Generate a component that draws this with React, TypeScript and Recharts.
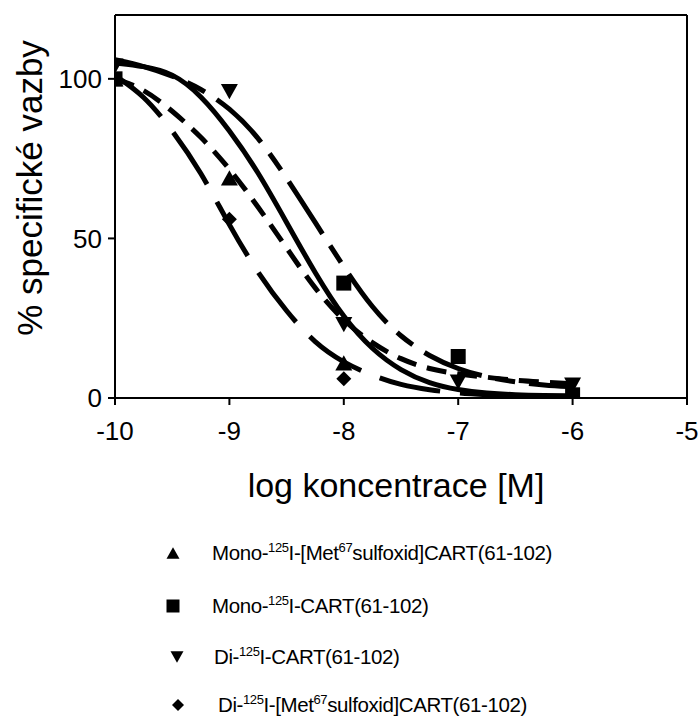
import { ComposedChart, Line, Scatter, XAxis, YAxis, ReferenceLine, Label } from "recharts";

// fitted curves at quarter-decade steps
const logGrid = [-10, -9.75, -9.5, -9.25, -9, -8.75, -8.5, -8.25, -8, -7.75, -7.5, -7.25, -7, -6.75, -6.5, -6.25, -6];
const solidCurve = [105, 104, 102, 95, 84, 71, 55, 39, 25, 15, 8.5, 4.5, 2.5, 1.5, 1, 0.8, 0.7];
const shortDashCurve = [100, 97, 90, 82, 72, 60, 47, 34, 24, 17, 12, 9, 7.5, 6.5, 5.5, 5, 4.5];
const rightDashCurve = [106, 104, 101, 97, 91, 82, 69, 55, 41, 28, 19, 13, 9, 6.5, 5, 4, 3.5];
const leftDashCurve = [101, 95, 84, 71, 54, 39, 27, 17, 11, 7, 4, 2.5, 1.5, 1, 0.5, 0.3, 0.2];

// measured points
const triX = [-10, -9, -8];
const triY = [100, 69, 11];
const squareX = [-10, -8, -7, -6];
const squareY = [100, 36, 13, 1];
const downX = [-10, -9, -8, -7, -6];
const downY = [104, 96, 23, 5, 4];
const diamondX = [-10, -9, -8];
const diamondY = [100, 56, 6];

const xTicks = [-10, -9, -8, -7, -6, -5];
const yTicks = [0, 50, 100];

const pts = (xs: number[], ys: number[]) => xs.map((x, i) => ({ x, y: ys[i] }));
const FONT = "'Liberation Sans', Arial, sans-serif";

const triShape = (s: number, down = false) => (p: any) => {
  const { cx, cy } = p;
  const h = s * 0.9;
  const d = down
    ? `M${cx - s / 2},${cy - h / 2}L${cx + s / 2},${cy - h / 2}L${cx},${cy + h / 2}Z`
    : `M${cx - s / 2},${cy + h / 2}L${cx + s / 2},${cy + h / 2}L${cx},${cy - h / 2}Z`;
  return <path d={d} fill="#000" />;
};
const squareShape = (s: number) => (p: any) => <rect x={p.cx - s / 2} y={p.cy - s / 2} width={s} height={s} fill="#000" />;
const diamondShape = (s: number) => (p: any) => {
  const { cx, cy } = p;
  const r = s / 2;
  return <path d={`M${cx},${cy - r}L${cx + r},${cy}L${cx},${cy + r}L${cx - r},${cy}Z`} fill="#000" />;
};

function LegendRow({ top, left, marker, children }: { top: number; left: number; marker: React.ReactNode; children: React.ReactNode }) {
  return (
    <div style={{ position: "absolute", top: top - 13, left: 160, height: 26, display: "flex", alignItems: "center" }}>
      <svg width={30} height={26} style={{ display: "block" }}>{marker}</svg>
      <span style={{ position: "absolute", left: left - 160, whiteSpace: "nowrap", fontSize: 20.5, fontFamily: FONT, color: "#000", letterSpacing: -0.4 }}>
        {children}
      </span>
    </div>
  );
}

const sup = (t: string) => <sup style={{ fontSize: 13, verticalAlign: 0, position: "relative", top: -8 }}>{t}</sup>;

export default function App() {
  return (
    <div style={{ position: "absolute", left: 0, top: 0, width: 699, height: 716, background: "#fff" }}>
      <ComposedChart width={699} height={510} margin={{ top: 15, right: 12, bottom: 52, left: 0 }}>
        <XAxis
          type="number"
          dataKey="x"
          domain={[-10, -5]}
          ticks={xTicks}
          allowDataOverflow
          height={60}
          tickSize={7}
          tickMargin={17}
          tick={{ fontSize: 26, fill: "#000", fontFamily: FONT }}
          axisLine={{ stroke: "#000", strokeWidth: 2 }}
          tickLine={{ stroke: "#000", strokeWidth: 2 }}
        >
          <Label
            content={() => (
              <text x={396} y={497} textAnchor="middle" fontSize={34} fontFamily={FONT} fill="#000">
                log koncentrace [M]
              </text>
            )}
          />
        </XAxis>
        <YAxis
          type="number"
          dataKey="y"
          domain={[0, 120]}
          ticks={yTicks}
          allowDataOverflow
          width={115}
          tickSize={7}
          tickMargin={6}
          tick={{ fontSize: 26, fill: "#000", fontFamily: FONT }}
          axisLine={{ stroke: "#000", strokeWidth: 2 }}
          tickLine={{ stroke: "#000", strokeWidth: 2 }}
        >
          <Label
            content={() => (
              <text x={42} y={188} transform="rotate(-90 42 188)" textAnchor="middle" fontSize={35} fontFamily={FONT} fill="#000">
                % specifické vazby
              </text>
            )}
          />
        </YAxis>
        <ReferenceLine y={120} stroke="#000" strokeWidth={2} />
        <ReferenceLine x={-5} stroke="#000" strokeWidth={2} />
        <Line data={pts(logGrid, solidCurve)} dataKey="y" type="basis" stroke="#000" strokeWidth={5} dot={false} isAnimationActive={false} />
        <Line data={pts(logGrid, shortDashCurve)} dataKey="y" type="basis" stroke="#000" strokeWidth={5} strokeDasharray="20 11" dot={false} isAnimationActive={false} />
        <Line data={pts(logGrid, rightDashCurve)} dataKey="y" type="basis" stroke="#000" strokeWidth={5} strokeDasharray="62 14 20 14" dot={false} isAnimationActive={false} />
        <Line data={pts(logGrid, leftDashCurve)} dataKey="y" type="basis" stroke="#000" strokeWidth={5} strokeDasharray="62 20" dot={false} isAnimationActive={false} />
        <Scatter data={pts(triX, triY)} dataKey="y" shape={triShape(17)} isAnimationActive={false} />
        <Scatter data={pts(squareX, squareY)} dataKey="y" shape={squareShape(15)} isAnimationActive={false} />
        <Scatter data={pts(downX, downY)} dataKey="y" shape={triShape(17, true)} isAnimationActive={false} />
        <Scatter data={pts(diamondX, diamondY)} dataKey="y" shape={diamondShape(15)} isAnimationActive={false} />
      </ComposedChart>

      <LegendRow top={553} left={212} marker={triShape(13)({ cx: 13, cy: 13 })}>
        Mono-{sup("125")}I-[Met{sup("67")}sulfoxid]CART(61-102)
      </LegendRow>
      <LegendRow top={606} left={212} marker={squareShape(13)({ cx: 13, cy: 13 })}>
        Mono-{sup("125")}I-CART(61-102)
      </LegendRow>
      <LegendRow top={657} left={214} marker={triShape(13, true)({ cx: 17, cy: 13 })}>
        Di-{sup("125")}I-CART(61-102)
      </LegendRow>
      <LegendRow top={705} left={218} marker={diamondShape(12)({ cx: 18, cy: 13 })}>
        Di-{sup("125")}I-[Met{sup("67")}sulfoxid]CART(61-102)
      </LegendRow>
    </div>
  );
}
